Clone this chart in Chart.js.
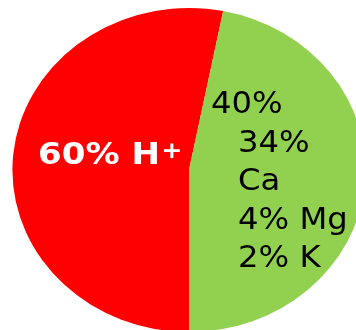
<!DOCTYPE html>
<html>
<head>
<meta charset="utf-8">
<script src="https://cdn.jsdelivr.net/npm/chart.js@4"></script>
<style>
  html, body { margin: 0; padding: 0; background: #fff; }
  #stage { position: relative; width: 356px; height: 330px; overflow: hidden; }
  #chartBox { position: absolute; left: 0; top: 0; width: 380px; height: 340px; }
  .lbl { position: absolute; font-family: "DejaVu Sans", Verdana, sans-serif; white-space: nowrap; transform-origin: 0 0; }
  .big { color: #fff; font-weight: bold; font-size: 31px; line-height: 40px; left: 38px; top: 132.6px; transform: scaleX(1.1); }
  .big sup { font-size: 23px; vertical-align: 6px; line-height: 0; margin-left: 1px; }
  .dark { color: #000; font-size: 31px; line-height: 38.5px; transform: scaleX(1.04); }
</style>
</head>
<body>
<div id="stage">
  <div id="chartBox"><canvas id="pie" width="380" height="340"></canvas></div>
  <div class="lbl big">60% H<sup>+</sup></div>
  <div class="lbl dark" style="left:211px; top:83.3px;">40%</div>
  <div class="lbl dark" style="left:237.5px; top:122px;">34%</div>
  <div class="lbl dark" style="left:237.5px; top:160px;">Ca</div>
  <div class="lbl dark" style="left:237.5px; top:199.3px;">4% Mg</div>
  <div class="lbl dark" style="left:237.5px; top:236.7px;">2% K</div>
</div>
<script>
  // slices as drawn in the picture (red first, clockwise from the bottom)
  const sliceNames = ['H+', 'Ca + Mg + K'];
  const sliceShares = [53.1, 46.9];
  const sliceColors = ['#FF0000', '#92D050'];

  // the pie in the picture is a bit wider than tall
  const stretchX = 1.09;

  const ellipsePlugin = {
    id: 'ellipse',
    beforeDatasetsDraw(chart) {
      const arc = chart.getDatasetMeta(0).data[0];
      const ctx = chart.ctx;
      ctx.save();
      ctx.translate(arc.x, arc.y);
      ctx.scale(stretchX, 1);
      ctx.translate(-arc.x, -arc.y);
    },
    afterDatasetsDraw(chart) {
      chart.ctx.restore();
    }
  };

  new Chart(document.getElementById('pie'), {
    type: 'pie',
    data: {
      labels: sliceNames,
      datasets: [{
        data: sliceShares,
        backgroundColor: sliceColors,
        borderWidth: 0
      }]
    },
    options: {
      responsive: false,
      animation: false,
      rotation: 180,
      layout: { padding: { left: 27, top: 8, right: 29, bottom: 8 } },
      plugins: {
        legend: { display: false },
        tooltip: { enabled: false }
      }
    },
    plugins: [ellipsePlugin]
  });
</script>
</body>
</html>
